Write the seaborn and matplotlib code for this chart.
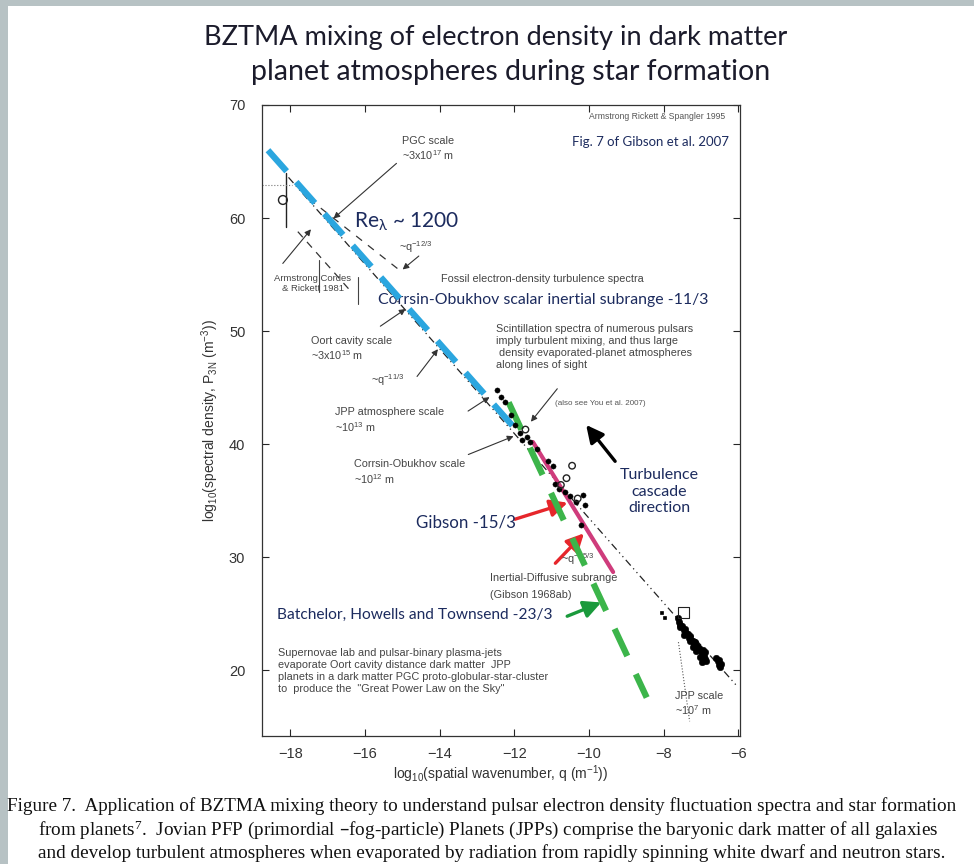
import numpy as np
import pandas as pd
import matplotlib
matplotlib.use('Agg')
import matplotlib.pyplot as plt
from matplotlib.patches import Rectangle
import seaborn as sns

# fitted power-law segments (log10 q, log10 P)
blue_x = [-18.6, -11.9]
blue_y = [66.0, 41.1]
green_x = [-12.15, -8.45]
green_y = [43.7, 17.6]
pink_x = [-11.5, -9.35]
pink_y = [40.2, 28.7]
dashdot_x = [-18.05, -6.0]
dashdot_y = [63.6, 18.5]
ac_x = [-17.8, -16.4]
ac_y = [58.8, 53.6]
q12_x = [-17.5, -15.0]
q12_y = [61.7, 55.2]

# pulsar scintillation points along the cascade
sc_x = [-12.46, -12.35, -12.24, -12.1, -11.97, -11.85, -11.78, -11.65, -11.57, -11.4,
        -11.1, -10.97, -10.92, -10.8, -10.65, -10.5, -10.35, -10.22, -10.16, -10.1]
sc_y = [44.8, 44.2, 43.7, 42.6, 41.7, 41.0, 40.4, 40.6, 40.2, 39.6,
        38.5, 38.1, 36.5, 36.0, 35.8, 35.4, 34.9, 32.9, 35.5, 34.6]
open_x = [-10.45, -10.6, -11.7, -10.3, -10.75]
open_y = [38.1, 37.0, 41.3, 35.2, 36.4]

# Armstrong Rickett & Spangler 1995 dense cluster
cl_x = [-7.62, -7.58, -7.55, -7.5, -7.46, -7.42, -7.4, -7.35, -7.32, -7.28,
        -7.25, -7.2, -7.18, -7.15, -7.1, -7.08, -7.05, -7.0, -6.98, -6.95,
        -6.92, -6.9, -6.88, -6.85, -6.6, -6.55, -6.52, -6.5, -6.48, -6.45,
        -7.55, -7.45, -7.3, -7.22, -7.12, -7.02, -6.96]
cl_y = [24.6, 24.3, 24.0, 23.9, 23.6, 23.7, 23.3, 23.2, 22.9, 23.0,
        22.7, 22.6, 22.3, 22.5, 22.2, 21.9, 22.0, 21.7, 21.5, 21.8,
        21.3, 21.6, 21.0, 20.8, 21.1, 20.8, 20.5, 20.9, 20.3, 20.6,
        23.8, 23.1, 22.6, 22.1, 21.7, 21.2, 20.7]
lone_x = [-8.05, -7.95]
lone_y = [25.1, 24.6]

# top-left Armstrong Cordes & Rickett 1981 point with bar
acr_x = [-18.2]
acr_y = [61.6]

navy = '#1c2b5e'
grey = '#444444'

sns.set_style('ticks')
plt.rcParams['font.family'] = ['Liberation Sans', 'DejaVu Sans']
plt.rcParams['mathtext.default'] = 'regular'

fig = plt.figure(figsize=(9.74, 8.64), dpi=100)
fig.patch.set_facecolor('#b7c2c4')
fig.add_artist(Rectangle((8 / 974, 0), 1, 1 - 6 / 864, transform=fig.transFigure,
                         facecolor='white', edgecolor='none', zorder=-1))

ax = fig.add_axes([262 / 974, 1 - 736 / 864, 478 / 974, 631 / 864])
ax.set_facecolor('white')

# faint black fits
sns.lineplot(x=dashdot_x, y=dashdot_y, ax=ax, color='#222222', lw=0.9,
             linestyle=(0, (6, 3, 1, 3, 1, 3)), zorder=2)
sns.lineplot(x=ac_x, y=ac_y, ax=ax, color='#333333', lw=0.9, linestyle=(0, (6, 5)), zorder=2)
sns.lineplot(x=q12_x, y=q12_y, ax=ax, color='#333333', lw=0.9, linestyle=(0, (6, 6)), zorder=2)

# coloured overlays
sns.lineplot(x=blue_x, y=blue_y, ax=ax, color='#2ba6df', lw=4.5,
             linestyle=(0, (4.5, 2.3)), zorder=4)
sns.lineplot(x=green_x, y=green_y, ax=ax, color='#3cb54a', lw=4.5,
             linestyle=(0, (4.8, 3.2)), zorder=4)
sns.lineplot(x=pink_x, y=pink_y, ax=ax, color='#cf3c7c', lw=3, zorder=3)

# data points
sns.scatterplot(x=sc_x, y=sc_y, ax=ax, s=14, color='black', marker='o', edgecolor='black', zorder=5)
sns.scatterplot(x=open_x, y=open_y, ax=ax, s=22, facecolor='none', edgecolor='#222222',
                linewidth=1, marker='o', zorder=5)
sns.scatterplot(x=cl_x, y=cl_y, ax=ax, s=22, color='black', marker='o', edgecolor='black', zorder=5)
sns.scatterplot(x=lone_x, y=lone_y, ax=ax, s=8, color='black', marker='s', zorder=5)
ax.scatter([-7.46], [25.1], s=60, marker='s', facecolor='none', edgecolor='#222222', lw=0.8, zorder=5)
ax.scatter(acr_x, acr_y, s=40, facecolor='none', edgecolor='#222222', lw=1, zorder=5)
ax.plot([-18.12, -18.12], [59.2, 64.0], color='#222222', lw=1)
ax.plot([-18.75, -17.95], [62.9, 62.9], color='#777777', lw=0.8, linestyle=':')
ax.plot([-17.24, -17.24], [53.5, 56.3], color='#444444', lw=0.8)
ax.plot([-16.2, -16.2], [52.4, 54.8], color='#444444', lw=0.8)
ax.plot([-7.6, -7.3], [22.5, 15.5], color='#555555', lw=0.8, linestyle=':')

ax.set_xlim(-18.76, -5.95)
ax.set_ylim(14.2, 70)
ax.set_xticks([-18, -16, -14, -12, -10, -8, -6])
ax.set_xticklabels(['\u221218', '\u221216', '\u221214', '\u221212', '\u221210', '\u22128', '\u22126'])
ax.set_yticks([20, 30, 40, 50, 60, 70])
ax.tick_params(direction='in', top=True, right=True, length=5, width=0.8,
               labelsize=10.5, labelcolor='#333333', pad=8)
ax.tick_params(axis='y', pad=12)
for s in ax.spines.values():
    s.set_visible(True)
    s.set_color('#333333')
    s.set_linewidth(0.9)
ax.set_xlabel('log$_{10}$(spatial wavenumber, q (m$^{-1}$))', fontsize=10, color='#333333', labelpad=2)
ax.set_ylabel('log$_{10}$(spectral density, P$_{3N}$ (m$^{-3}$))', fontsize=10, color='#333333', labelpad=6)

thin = dict(arrowstyle='-|>', color='#333333', lw=0.8, mutation_scale=9)

ax.text(-6.35, 69.0, 'Armstrong Rickett & Spangler 1995', fontsize=6.2, color='#555555', ha='right', va='center')
ax.text(-6.25, 66.7, 'Fig. 7 of Gibson et al. 2007', fontsize=9.5, color=navy, ha='right', va='center',
        family=['Lato', 'DejaVu Sans'])
ax.annotate('', xy=(-16.9, 59.8), xytext=(-15.1, 65.0), arrowprops=thin)
ax.text(-15.0, 66.1, 'PGC scale\n~3x10$^{17}$ m', fontsize=7.8, color=grey, ha='left', va='center',
        linespacing=1.2)
ax.text(-16.3, 59.7, 'Re$_{\\lambda}$ ~ 1200', fontsize=15, color=navy, ha='left', va='center',
        family=['Lato', 'DejaVu Sans'])
ax.text(-15.1, 57.4, '~q$^{-12/3}$', fontsize=7.8, color=grey, ha='left', va='center')
ax.annotate('', xy=(-15.05, 55.3), xytext=(-14.5, 56.8), arrowprops=thin)
ax.text(-13.95, 54.6, 'Fossil electron-density turbulence spectra', fontsize=7.8, color=grey,
        ha='left', va='center')
ax.text(-15.65, 52.8, 'Corrsin-Obukhov scalar inertial subrange -11/3', fontsize=11.4, color=navy,
        ha='left', va='center', family=['Lato', 'DejaVu Sans'])
ax.annotate('', xy=(-17.4, 59.2), xytext=(-18.25, 55.8), arrowprops=thin)
ax.text(-17.4, 54.2, 'Armstrong Cordes\n& Rickett 1981', fontsize=6.8, color=grey, ha='center',
        va='center', linespacing=1.2)
ax.annotate('', xy=(-14.85, 52.1), xytext=(-15.65, 50.3), arrowprops=thin)
ax.text(-17.45, 48.4, 'Oort cavity scale\n~3x10$^{15}$ m', fontsize=7.8, color=grey, ha='left',
        va='center', linespacing=1.2)
ax.text(-15.85, 45.7, '~q$^{-11/3}$', fontsize=7.8, color=grey, ha='left', va='center')
ax.annotate('', xy=(-14.0, 48.6), xytext=(-14.65, 45.8), arrowprops=thin)
ax.text(-12.48, 50.6, 'Scintillation spectra of numerous pulsars\nimply turbulent mixing, and thus large\n'
        ' density evaporated-planet atmospheres\nalong lines of sight',
        fontsize=7.8, color=grey, ha='left', va='top', linespacing=1.25)
ax.annotate('', xy=(-11.6, 41.8), xytext=(-10.8, 45.1), arrowprops=thin)
ax.text(-10.92, 43.6, '(also see You et al. 2007)', fontsize=5.8, color='#555555', ha='left', va='center')
ax.text(-16.8, 42.1, 'JPP atmosphere scale\n~10$^{13}$ m', fontsize=7.8, color=grey, ha='left',
        va='center', linespacing=1.2)
ax.annotate('', xy=(-12.6, 44.3), xytext=(-13.3, 42.8), arrowprops=thin)
ax.text(-16.3, 37.5, 'Corrsin-Obukhov scale\n~10$^{12}$ m', fontsize=7.8, color=grey, ha='left',
        va='center', linespacing=1.2)
ax.annotate('', xy=(-11.95, 40.8), xytext=(-13.3, 39.0), arrowprops=thin)

ax.annotate('', xy=(-10.12, 41.9), xytext=(-9.25, 38.3),
            arrowprops=dict(arrowstyle='-|>', color='black', lw=2.4, mutation_scale=26))
ax.text(-8.12, 35.8, 'Turbulence\ncascade\ndirection', fontsize=11.5, color=navy, ha='center',
        va='center', linespacing=1.25, family=['Lato', 'DejaVu Sans'])

red = dict(arrowstyle='-|>', color='#e6262b', lw=2.4, mutation_scale=26)
ax.annotate('', xy=(-10.5, 34.9), xytext=(-12.05, 33.3), arrowprops=red)
ax.annotate('', xy=(-10.08, 32.3), xytext=(-10.95, 29.3), arrowprops=red)
ax.text(-14.62, 33.1, 'Gibson -15/3', fontsize=12.2, color=navy, ha='left', va='center',
        family=['Lato', 'DejaVu Sans'])
ax.text(-10.75, 29.8, '~q$^{-15/3}$', fontsize=7.8, color=grey, ha='left', va='center')
ax.text(-12.65, 28.2, 'Inertial-Diffusive subrange', fontsize=7.8, color=grey, ha='left', va='center')
ax.text(-12.65, 26.7, '(Gibson 1968ab)', fontsize=7.8, color=grey, ha='left', va='center')

ax.annotate('', xy=(-9.6, 26.1), xytext=(-10.65, 24.7),
            arrowprops=dict(arrowstyle='-|>', color='#1a9a3c', lw=2.4, mutation_scale=26))
ax.text(-18.35, 24.9, 'Batchelor, Howells and Townsend -23/3', fontsize=11.2, color=navy, ha='left',
        va='center', family=['Lato', 'DejaVu Sans'])
ax.text(-18.32, 22.0, 'Supernovae lab and pulsar-binary plasma-jets\n'
        'evaporate Oort cavity distance dark matter  JPP\n'
        'planets in a dark matter PGC proto-globular-star-cluster\n'
        'to  produce the  "Great Power Law on the Sky"',
        fontsize=7.8, color=grey, ha='left', va='top', linespacing=1.25)
ax.text(-7.7, 17.0, 'JPP scale\n~10$^{7}$ m', fontsize=7.8, color=grey, ha='left', va='center',
        linespacing=1.2)

title_font = ['Lato', 'DejaVu Sans']
fig.text(0.509, 1 - 38 / 864, 'BZTMA mixing of electron density in dark matter',
         ha='center', va='center', fontsize=19.5, color='#1b1b2b', family=title_font)
fig.text(0.524, 1 - 72 / 864, 'planet atmospheres during star formation',
         ha='center', va='center', fontsize=20.5, color='#1b1b2b', family=title_font)

serif = ['Liberation Serif', 'DejaVu Serif']
cap = dict(ha='left', va='center', fontsize=13.8, family=serif, color='#111111')
fig.text(7 / 974, 1 - 806 / 864,
         'Figure 7.  Application of BZTMA mixing theory to understand pulsar electron density fluctuation spectra and star formation',
         **cap)
fig.text(38 / 974, 1 - 830 / 864,
         'from planets$^{7}$.  Jovian PFP (primordial \u2013fog-particle) Planets (JPPs) comprise the baryonic dark matter of all galaxies',
         **cap)
fig.text(38 / 974, 1 - 853 / 864,
         'and develop turbulent atmospheres when evaporated by radiation from rapidly spinning white dwarf and neutron stars.',
         **cap)

fig.savefig('out.png', dpi=100, facecolor=fig.get_facecolor())
